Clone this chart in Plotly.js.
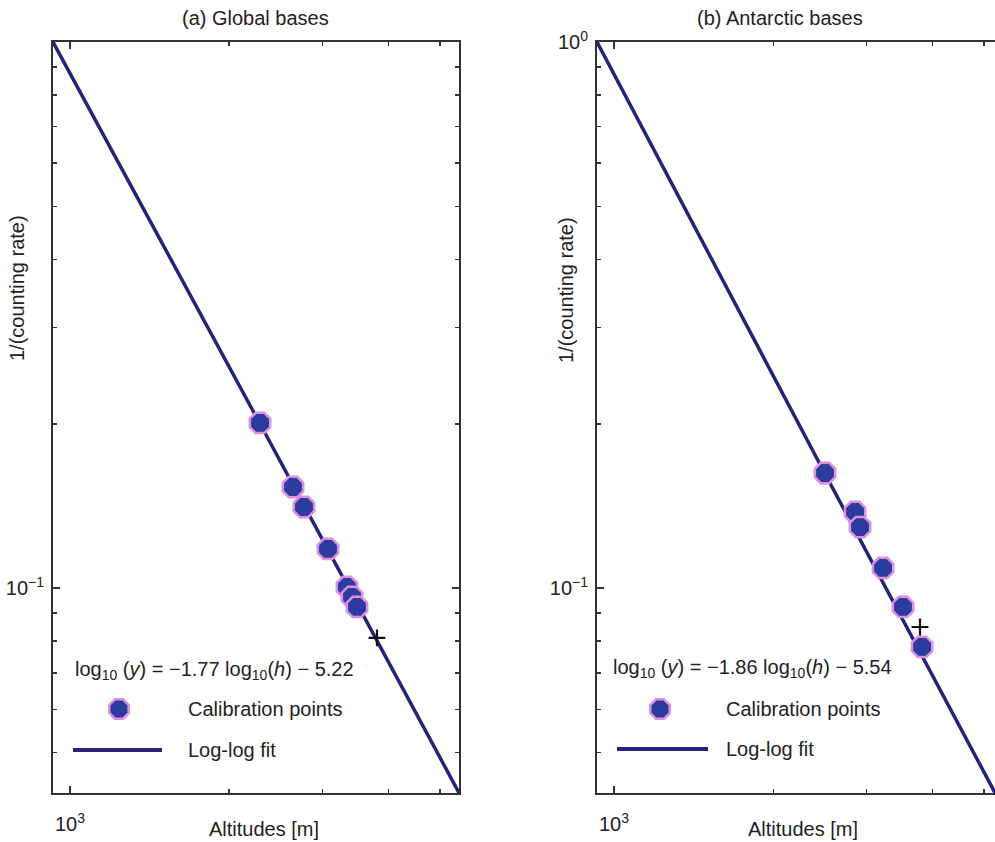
<!DOCTYPE html>
<html>
<head>
<meta charset="utf-8">
<script src="https://cdn.plot.ly/plotly-3.0.1.min.js"></script>
<style>html,body{margin:0;padding:0;background:#fff;overflow:hidden;}</style>
</head>
<body>
<div id="chart" style="width:995px;height:842px;"></div>
<script>
// ---- data ----
const panelTitles = ["(a) Global bases", "(b) Antarctic bases"];
const xTitle = "Altitudes [m]";
const yTitle = "1/(counting rate)";
const equations = [
  "log<sub>10</sub> (<i>y</i>) = \u22121.77 log<sub>10</sub>(<i>h</i>) \u2212 5.22",
  "log<sub>10</sub> (<i>y</i>) = \u22121.86 log<sub>10</sub>(<i>h</i>) \u2212 5.54"
];
const legendLabels = ["Calibration points", "Log-log fit"];

// (a) Global bases
const calH_a = [2287, 2640, 2769, 3074, 3338, 3413, 3487];
const calY_a = [0.2007, 0.1532, 0.1408, 0.1180, 0.1005, 0.0964, 0.0924];
const fitH_a = [929, 2287, 5436];
const fitY_a = [1.0, 0.200, 0.0422];
const crossH_a = [3804];
const crossY_a = [0.0811];

// (b) Antarctic bases
const calH_b = [2505, 2855, 2917, 3225, 3517, 3821];
const calY_b = [0.1625, 0.1379, 0.1294, 0.1089, 0.0924, 0.0781];
const fitH_b = [929, 2505, 5248];
const fitY_b = [1.0, 0.162, 0.0422];
const crossH_b = [3787];
const crossY_b = [0.0849];

// ticks
const xMajor = [1000];
const xMajorText = ["10<sup>3</sup>"];
const xMinor = [2000, 3000, 4000, 5000];
const yMajor_a = [0.1];
const yMajorText_a = ["10<sup>\u22121</sup>"];
const yMajor_b = [0.1, 1];
const yMajorText_b = ["10<sup>\u22121</sup>", "10<sup>0</sup>"];
const yMinor = [0.05, 0.06, 0.07, 0.08, 0.09, 0.2, 0.3, 0.4, 0.5, 0.6, 0.7, 0.8, 0.9];

// ---- styling / layout ----
const W = 995, H = 842;
const px = v => v / W;
const py = v => 1 - v / H;
const FONT = "Liberation Sans, Arial, Helvetica, sans-serif";
const LINE = "#23237a";
const MFILL = "#2b3c9e";
const MEDGE = "#dc8fde";
const AX = "#333333";
const FS = 20;

function xaxisDef(domain, range, anchor) {
  return {
    type: "log", domain: domain, range: range, anchor: anchor,
    showgrid: false, zeroline: false,
    showline: true, linecolor: AX, linewidth: 2, mirror: "ticks",
    ticks: "inside", ticklen: 7, tickwidth: 1.5, tickcolor: AX,
    tickmode: "array", tickvals: xMajor, ticktext: xMajorText,
    ticklabelstandoff: 12,
    minor: {tickmode: "array", tickvals: xMinor, ticks: "inside", ticklen: 4, tickwidth: 1.5, tickcolor: AX},
    tickfont: {family: FONT, size: FS, color: "#222"}
  };
}
function yaxisDef(domain, vals, text, anchor, mirror) {
  return {
    type: "log", domain: domain, range: [-1.375, 0], anchor: anchor,
    showgrid: false, zeroline: false,
    showline: true, linecolor: AX, linewidth: 2, mirror: mirror,
    ticks: "inside", ticklen: 7, tickwidth: 1.5, tickcolor: AX,
    tickmode: "array", tickvals: vals, ticktext: text,
    ticklabelstandoff: 3,
    minor: {tickmode: "array", tickvals: yMinor, ticks: "inside", ticklen: 4, tickwidth: 1.5, tickcolor: AX},
    tickfont: {family: FONT, size: FS, color: "#222"}
  };
}

const yDom = [py(793), py(42)];

function panelTraces(xa, ya, fh, fy, ch, cy, kh, ky) {
  return [
    {x: fh, y: fy, xaxis: xa, yaxis: ya, mode: "lines", type: "scatter",
     line: {color: LINE, width: 3.5}, hoverinfo: "skip"},
    {x: ch, y: cy, xaxis: xa, yaxis: ya, mode: "markers", type: "scatter",
     marker: {symbol: "octagon", size: 22, color: MFILL, line: {color: MEDGE, width: 2.5}}},
    {x: kh, y: ky, xaxis: xa, yaxis: ya, mode: "markers", type: "scatter",
     marker: {symbol: "cross-thin", size: 12, color: "#111", line: {color: "#111", width: 2.2}}}
  ];
}

const data = [].concat(
  panelTraces("x", "y", fitH_a, fitY_a, calH_a, calY_a, crossH_a, crossY_a),
  panelTraces("x2", "y2", fitH_b, fitY_b, calH_b, calY_b, crossH_b, crossY_b)
);

function octagon(cx, cy, r) {
  let d = "";
  for (let i = 0; i < 8; i++) {
    const a = Math.PI / 8 + i * Math.PI / 4;
    const X = px(cx + r * Math.cos(a)), Y = py(cy + r * Math.sin(a));
    d += (i === 0 ? "M" : "L") + X + "," + Y + " ";
  }
  return d + "Z";
}

const txt = (t, x, y, size, xanchor, extra) => Object.assign({
  text: t, xref: "paper", yref: "paper", x: px(x), y: py(y),
  xanchor: xanchor || "center", yanchor: "middle", showarrow: false,
  font: {family: FONT, size: size, color: "#222"}
}, extra || {});

const annotations = [
  txt(panelTitles[0], 255, 18, FS),
  txt(panelTitles[1], 780, 18, FS),
  txt(xTitle, 264, 829, FS),
  txt(xTitle, 803, 829, FS),
  txt(yTitle, 17, 288, FS, "center", {textangle: -90}),
  txt(yTitle, 566, 290, FS, "center", {textangle: -90}),
  txt(equations[0], 73, 670, FS, "left"),
  txt(equations[1], 611, 668, FS, "left"),
  txt(legendLabels[0], 186, 709, FS, "left"),
  txt(legendLabels[1], 186, 750, FS, "left"),
  txt(legendLabels[0], 724, 709, FS, "left"),
  txt(legendLabels[1], 724, 749, FS, "left")
];

const shapes = [
  {type: "line", xref: "paper", yref: "paper", x0: px(73), x1: px(162), y0: py(750), y1: py(750), line: {color: LINE, width: 4}},
  {type: "line", xref: "paper", yref: "paper", x0: px(617), x1: px(708), y0: py(749), y1: py(749), line: {color: LINE, width: 4}},
  {type: "path", xref: "paper", yref: "paper", path: octagon(119, 709, 10.5), fillcolor: MFILL, line: {color: MEDGE, width: 2.5}},
  {type: "path", xref: "paper", yref: "paper", path: octagon(660, 709, 10.5), fillcolor: MFILL, line: {color: MEDGE, width: 2.5}}
];

const layout = {
  width: W, height: H,
  margin: {l: 0, r: 0, t: 0, b: 0, pad: 0},
  paper_bgcolor: "#fff", plot_bgcolor: "#fff",
  showlegend: false,
  xaxis: xaxisDef([px(53), px(459)], [Math.log10(929), Math.log10(5436)], "y"),
  yaxis: yaxisDef(yDom, yMajor_a, yMajorText_a, "x", "ticks"),
  xaxis2: xaxisDef([px(597), 1], [Math.log10(929), Math.log10(5248)], "y2"),
  yaxis2: yaxisDef(yDom, yMajor_b, yMajorText_b, "x2", false),
  annotations: annotations,
  shapes: shapes
};

Plotly.newPlot("chart", data, layout, {staticPlot: true, displayModeBar: false});
</script>
</body>
</html>
